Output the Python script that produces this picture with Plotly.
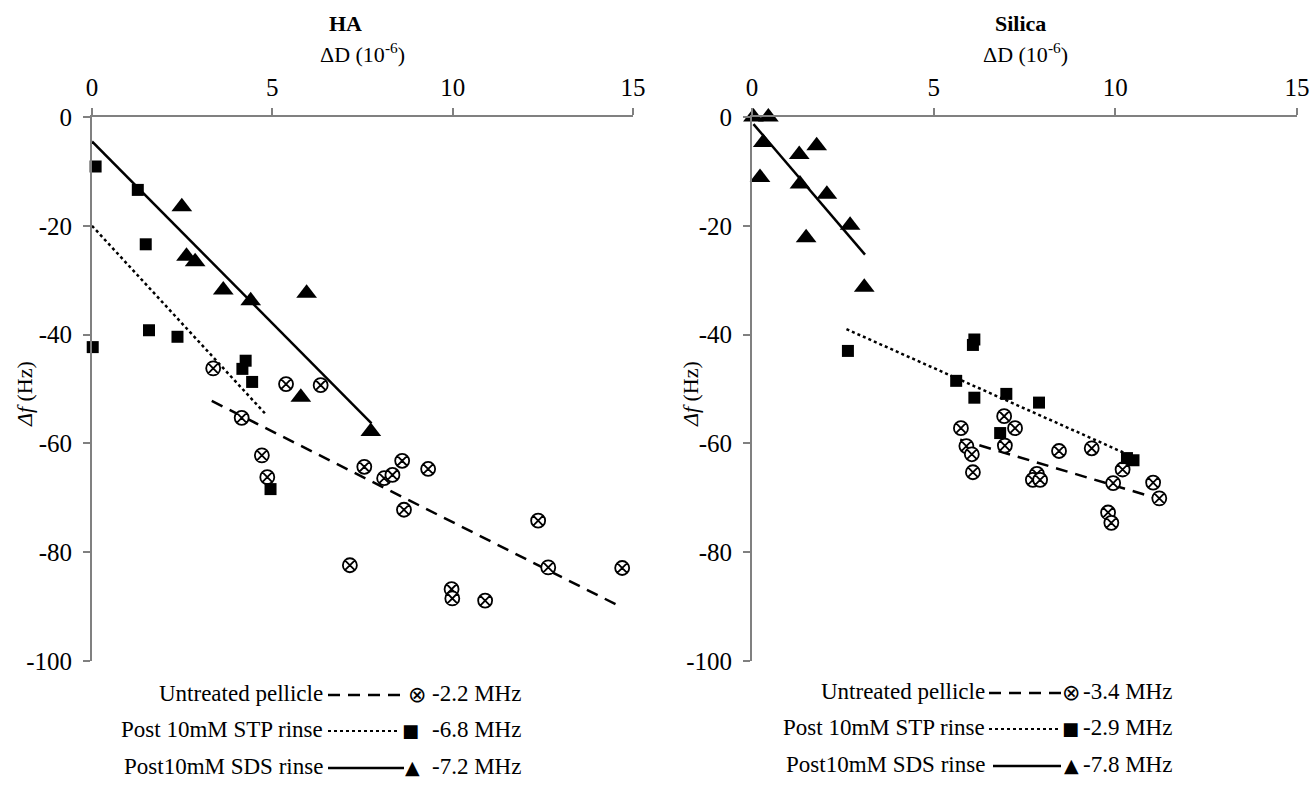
import plotly.graph_objects as go

# ---------------- data ----------------
# HA panel
ha_untreated_x = [3.36, 5.38, 6.34, 4.15, 4.71, 4.86, 7.55, 8.60, 8.10, 8.33, 9.32, 8.65,
                  12.37, 12.65, 14.70, 7.15, 9.97, 9.99, 10.90]
ha_untreated_y = [-46.2, -49.1, -49.3, -55.3, -62.2, -66.2, -64.3, -63.2, -66.4, -65.8, -64.7, -72.2,
                  -74.2, -82.8, -82.9, -82.4, -86.8, -88.5, -88.9]
ha_stp_x = [0.10, 1.27, 1.49, 1.58, 2.37, 0.02, 4.26, 4.17, 4.44, 4.95]
ha_stp_y = [-9.1, -13.4, -23.4, -39.2, -40.4, -42.3, -44.8, -46.3, -48.7, -68.4]
ha_sds_x = [2.49, 2.62, 2.86, 3.64, 4.40, 5.95, 5.79, 7.73]
ha_sds_y = [-16.5, -25.6, -26.6, -31.8, -33.8, -32.4, -51.5, -57.8]
ha_fit_untreated_x = [3.32, 14.68]
ha_fit_untreated_y = [-52.2, -90.1]
ha_fit_stp_x = [0.0, 4.84]
ha_fit_stp_y = [-20.0, -54.8]
ha_fit_sds_x = [0.0, 7.75]
ha_fit_sds_y = [-4.5, -56.3]

# Silica panel
si_untreated_x = [6.94, 5.75, 7.24, 5.90, 6.05, 6.96, 6.08, 8.45, 9.35, 7.84, 7.73, 7.93,
                  10.20, 9.94, 11.04, 11.21, 9.80, 9.89]
si_untreated_y = [-55.0, -57.2, -57.2, -60.5, -62.0, -60.4, -65.3, -61.4, -60.9, -65.6, -66.7, -66.7,
                  -64.8, -67.3, -67.2, -70.1, -72.7, -74.6]
si_stp_x = [6.12, 6.08, 5.62, 6.12, 7.00, 7.90, 6.83, 10.32, 10.50, 2.64]
si_stp_y = [-40.9, -41.9, -48.5, -51.6, -50.9, -52.5, -58.1, -62.7, -63.1, -43.0]
si_sds_x = [0.04, 0.45, 0.31, 0.22, 1.30, 1.78, 1.32, 2.06, 1.49, 2.70, 3.09]
si_sds_y = [0.0, 0.0, -4.7, -11.1, -6.9, -5.3, -12.3, -14.2, -22.2, -19.9, -31.3]
si_fit_untreated_x = [5.73, 11.2]
si_fit_untreated_y = [-59.3, -70.2]
si_fit_stp_x = [2.60, 10.33]
si_fit_stp_y = [-39.0, -62.0]
si_fit_sds_x = [0.04, 3.11]
si_fit_sds_y = [-1.3, -25.3]

x_ticks = [0, 5, 10, 15]
y_ticks = [0, -20, -40, -60, -80, -100]
y_ticktext = ["0", "-20", "-40", "-60", "-80", "-100"]

legend_labels = ["Untreated pellicle", "Post 10mM STP rinse", "Post10mM SDS rinse"]
ha_freqs = ["-2.2 MHz", "-6.8 MHz", "-7.2 MHz"]
si_freqs = ["-3.4 MHz", "-2.9 MHz", "-7.8 MHz"]
legend_glyphs = ["⊗", "■", "▲"]
legend_dash = ["12px,8px", "dot", "solid"]

# ---------------- figure ----------------
W, H = 1314, 788
FONT = "Liberation Serif"
AXC = "#808080"

def px(x):
    return x / W

def py(y):
    return 1 - y / H

fig = go.Figure()

def add_panel(xa, ya, ux, uy, sx, sy, tx, ty, fux, fuy, fsx, fsy, ftx, fty):
    fig.add_trace(go.Scatter(x=fux, y=fuy, mode="lines", xaxis=xa, yaxis=ya,
                             line=dict(color="black", width=2.5, dash="12px,8px"), showlegend=False))
    fig.add_trace(go.Scatter(x=fsx, y=fsy, mode="lines", xaxis=xa, yaxis=ya,
                             line=dict(color="black", width=2.5, dash="dot"), showlegend=False))
    fig.add_trace(go.Scatter(x=ftx, y=fty, mode="lines", xaxis=xa, yaxis=ya,
                             line=dict(color="black", width=2.5), showlegend=False))
    fig.add_trace(go.Scatter(x=ux, y=uy, mode="markers", xaxis=xa, yaxis=ya, cliponaxis=False,
                             marker=dict(symbol="circle-x", size=14, color="white",
                                         line=dict(color="black", width=1.8)), showlegend=False))
    fig.add_trace(go.Scatter(x=sx, y=sy, mode="markers", xaxis=xa, yaxis=ya, cliponaxis=False,
                             marker=dict(symbol="square", size=12, color="black"), showlegend=False))
    fig.add_trace(go.Scatter(x=tx, y=ty, mode="markers", xaxis=xa, yaxis=ya, cliponaxis=False,
                             marker=dict(symbol="triangle-up", size=18, color="black"), showlegend=False))

add_panel("x", "y", ha_untreated_x, ha_untreated_y, ha_stp_x, ha_stp_y, ha_sds_x, ha_sds_y,
          ha_fit_untreated_x, ha_fit_untreated_y, ha_fit_stp_x, ha_fit_stp_y, ha_fit_sds_x, ha_fit_sds_y)
add_panel("x2", "y2", si_untreated_x, si_untreated_y, si_stp_x, si_stp_y, si_sds_x, si_sds_y,
          si_fit_untreated_x, si_fit_untreated_y, si_fit_stp_x, si_fit_stp_y, si_fit_sds_x, si_fit_sds_y)

xaxis_common = dict(range=[0, 15], side="top", tickvals=x_ticks, ticks="outside", ticklen=7,
                    tickcolor=AXC, tickwidth=1.5, showline=True, linecolor=AXC, linewidth=2,
                    showgrid=False, zeroline=False, tickfont=dict(family=FONT, size=25, color="black"),
                    ticklabelstandoff=2, automargin=False, fixedrange=True)
yaxis_common = dict(range=[-100, 0], tickvals=y_ticks, ticktext=y_ticktext, ticks="outside", ticklen=7,
                    tickcolor=AXC, tickwidth=1.5, showline=True, linecolor=AXC, linewidth=2,
                    showgrid=False, zeroline=False, tickfont=dict(family=FONT, size=25, color="black"),
                    ticklabelstandoff=6, automargin=False, fixedrange=True)

ydom = [py(661), py(117)]
fig.update_layout(
    width=W, height=H,
    margin=dict(l=0, r=0, t=0, b=0),
    paper_bgcolor="white", plot_bgcolor="white",
    xaxis=dict(xaxis_common, domain=[px(92), px(633)], anchor="y"),
    yaxis=dict(yaxis_common, domain=ydom, anchor="x"),
    xaxis2=dict(xaxis_common, domain=[px(752), px(1297)], anchor="y2"),
    yaxis2=dict(yaxis_common, domain=ydom, anchor="x2"),
    showlegend=False,
)

ann = []

def text_ann(x, y, text, size, xanchor="center", yanchor="middle", family=FONT, angle=0):
    ann.append(dict(x=px(x), y=py(y), text=text, showarrow=False, xref="paper", yref="paper",
                    xanchor=xanchor, yanchor=yanchor, textangle=angle,
                    font=dict(family=family, size=size, color="black")))

# panel titles
text_ann(345, 24, "<b>HA</b>", 22)
text_ann(1020, 24, "<b>Silica</b>", 22)
# x axis titles
text_ann(362, 53, "ΔD (10<sup>-6</sup>)", 22)
text_ann(1025, 53, "ΔD (10<sup>-6</sup>)", 22)
# y axis titles
text_ann(24, 394, "<i>Δf</i> (Hz)", 22, angle=-90)
text_ann(690, 394, "<i>Δf</i> (Hz)", 22, angle=-90)

shapes = []

def add_legend(text_right, line_x0, line_x1, glyph_x, freq_x, rows_y, freqs):
    for i in range(3):
        yy = rows_y[i]
        text_ann(text_right, yy, legend_labels[i], 23, xanchor="right")
        shapes.append(dict(type="line", xref="paper", yref="paper", x0=px(line_x0[i]), x1=px(line_x1[i]),
                           y0=py(yy + 2), y1=py(yy + 2),
                           line=dict(color="black", width=2.5 if i != 1 else 2, dash=legend_dash[i])))
        text_ann(glyph_x[i], yy + 1, legend_glyphs[i], [22, 18, 19][i], family="DejaVu Sans")
        text_ann(freq_x, yy, freqs[i], 23, xanchor="left")

add_legend(325, [328, 328, 328], [407, 400, 404], [417, 410, 412], 430, [693, 729, 766], ha_freqs)
add_legend(987, [989, 989, 993], [1062, 1061, 1061], [1071, 1070, 1071], 1081, [691, 727, 764], si_freqs)

fig.update_layout(annotations=ann, shapes=shapes)

fig.write_html("out.html", config={"displayModeBar": False},
               post_script="document.body.style.margin='0px';")
